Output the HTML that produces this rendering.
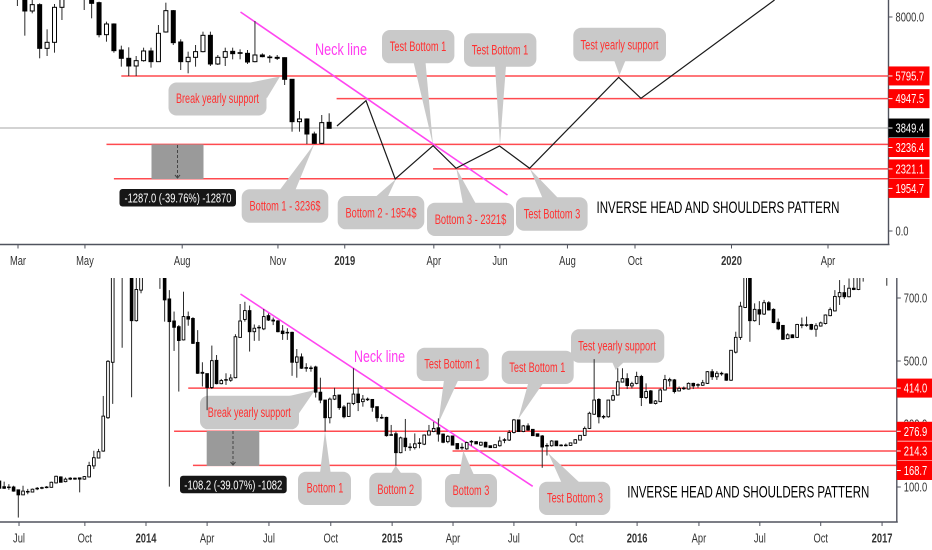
<!DOCTYPE html>
<html lang="en">
<head>
<meta charset="utf-8">
<title>Inverse head and shoulders pattern</title>
<style>
html,body{margin:0;padding:0;background:#fff;width:932px;height:550px;overflow:hidden}
svg{display:block;filter:blur(0.35px)}
text{font-family:"Liberation Sans",sans-serif}
.co{fill:#c9c9c9}
.ct{fill:#ff3030;font-size:13.5px;text-anchor:middle}
.neck{stroke:#ff46f0;stroke-width:1.6;fill:none}
.neckt{fill:#ff3cf0;font-size:16.5px;text-anchor:middle}
.title{fill:#000;font-size:17px;text-anchor:middle}
.ml{fill:#fff;font-size:13px;text-anchor:middle}
</style>
</head>
<body>
<svg id="chart" xmlns="http://www.w3.org/2000/svg" width="932" height="550" viewBox="0 0 932 550">
  <defs>
    <clipPath id="top-clip"><rect x="0" y="0" width="888" height="244"/></clipPath>
    <clipPath id="bot-clip"><rect x="0" y="278" width="897" height="244"/></clipPath>
  </defs>

  <!-- TOP PANEL -->
  <g>
    <g id="top-levels" clip-path="url(#top-clip)"></g>
    <g>
      <rect x="151.5" y="144.5" width="52" height="34.5" fill="#9a9a9a"/>
      <line x1="177.5" y1="145" x2="177.5" y2="177" stroke="#444" stroke-width="1" stroke-dasharray="3 2"/>
      <path d="M175 175 L177.5 178 L180 175" fill="none" stroke="#444" stroke-width="1"/>
      <rect x="119.5" y="189" width="116.5" height="17.5" rx="3" fill="#161616"/>
      <text class="ml" x="178" y="202.5" textLength="107" lengthAdjust="spacingAndGlyphs">-1287.0 (-39.76%) -12870</text>
    </g>
    <g>
      <rect class="co" x="168.5" y="82.5" width="98" height="33" rx="8"/>
      <polygon class="co" points="248,83 280,76.5 267,98"/>
      <text class="ct" x="217.5" y="103" textLength="83" lengthAdjust="spacingAndGlyphs">Break yearly support</text>
    </g>
    <g>
      <rect class="co" x="241.7" y="189.3" width="86.6" height="33.4" rx="8"/>
      <polygon class="co" points="279,191 314.3,144 295,191"/>
      <text class="ct" x="285" y="210.5" textLength="71" lengthAdjust="spacingAndGlyphs">Bottom 1 - 3236$</text>
    </g>
    <g>
      <rect class="co" x="382" y="30" width="72.4" height="33.3" rx="8"/>
      <polygon class="co" points="413.5,62 433,145 425.5,62"/>
      <text class="ct" x="418" y="51" textLength="56.6" lengthAdjust="spacingAndGlyphs">Test Bottom 1</text>
    </g>
    <g>
      <rect class="co" x="464" y="33.3" width="72.4" height="33.4" rx="8"/>
      <polygon class="co" points="495,66 500,145 506,66"/>
      <text class="ct" x="500" y="54.5" textLength="56.6" lengthAdjust="spacingAndGlyphs">Test Bottom 1</text>
    </g>
    <g>
      <rect class="co" x="573.3" y="27.7" width="92.7" height="33.6" rx="8"/>
      <polygon class="co" points="614,60 619.5,75 625.7,60"/>
      <text class="ct" x="619.5" y="49.5" textLength="78" lengthAdjust="spacingAndGlyphs">Test yearly support</text>
    </g>
    <g>
      <rect class="co" x="337.7" y="196" width="86.6" height="33.3" rx="8"/>
      <polygon class="co" points="375.4,197 396,179 387.7,197"/>
      <text class="ct" x="381" y="217.5" textLength="71" lengthAdjust="spacingAndGlyphs">Bottom 2 - 1954$</text>
    </g>
    <g>
      <rect class="co" x="427" y="202.7" width="87" height="33.3" rx="8"/>
      <polygon class="co" points="463,204 456.3,168.3 476,204"/>
      <text class="ct" x="470.5" y="224" textLength="71.6" lengthAdjust="spacingAndGlyphs">Bottom 3 - 2321$</text>
    </g>
    <g>
      <rect class="co" x="516" y="197.3" width="71.6" height="33.4" rx="8"/>
      <polygon class="co" points="530,169 542.5,198 558,198"/>
      <text class="ct" x="552" y="218.5" textLength="56.6" lengthAdjust="spacingAndGlyphs">Test Bottom 3</text>
    </g>
    <line class="neck" x1="240.5" y1="12" x2="507.5" y2="195"/>
    <text class="neckt" x="341" y="55" textLength="52" lengthAdjust="spacingAndGlyphs">Neck line</text>
    <text class="title" x="718" y="213" textLength="243" lengthAdjust="spacingAndGlyphs">INVERSE HEAD AND SHOULDERS PATTERN</text>
    <g id="top-candles" clip-path="url(#top-clip)"></g>
    <g id="top-projection" clip-path="url(#top-clip)"></g>
    <g id="top-axes"></g>
  </g>

  <!-- BOTTOM PANEL -->
  <g>
    <g id="bot-levels" clip-path="url(#bot-clip)"></g>
    <g>
      <rect x="206.7" y="431" width="52.6" height="35" fill="#9a9a9a"/>
      <line x1="233" y1="431" x2="233" y2="464" stroke="#444" stroke-width="1" stroke-dasharray="3 2"/>
      <path d="M230.5 462 L233 465 L235.5 462" fill="none" stroke="#444" stroke-width="1"/>
      <rect x="180" y="475.7" width="106.7" height="17.6" rx="3" fill="#161616"/>
      <text class="ml" x="233.3" y="489.3" textLength="98" lengthAdjust="spacingAndGlyphs">-108.2 (-39.07%) -1082</text>
    </g>
    <g>
      <rect class="co" x="200" y="395.7" width="99" height="33.6" rx="8"/>
      <polygon class="co" points="285,397 315,390 298.5,414"/>
      <text class="ct" x="249.3" y="417" textLength="83" lengthAdjust="spacingAndGlyphs">Break yearly support</text>
    </g>
    <g>
      <rect class="co" x="298" y="471.7" width="53" height="33.3" rx="8"/>
      <polygon class="co" points="320,473 325,431 330.7,473"/>
      <text class="ct" x="325" y="492.5" textLength="36.7" lengthAdjust="spacingAndGlyphs">Bottom 1</text>
    </g>
    <g>
      <rect class="co" x="369.3" y="472.7" width="52.4" height="33.3" rx="8"/>
      <polygon class="co" points="390.7,474 395.7,465.7 401.7,474"/>
      <text class="ct" x="395.7" y="493.8" textLength="36.7" lengthAdjust="spacingAndGlyphs">Bottom 2</text>
    </g>
    <g>
      <rect class="co" x="445" y="474" width="52" height="33.3" rx="8"/>
      <polygon class="co" points="459.3,475 463.3,450.7 474,475"/>
      <text class="ct" x="471" y="495" textLength="36.7" lengthAdjust="spacingAndGlyphs">Bottom 3</text>
    </g>
    <g>
      <rect class="co" x="416.7" y="347.7" width="72" height="33.3" rx="8"/>
      <polygon class="co" points="444,380 438.3,423.3 458.3,380"/>
      <text class="ct" x="452.3" y="368.5" textLength="56" lengthAdjust="spacingAndGlyphs">Test Bottom 1</text>
    </g>
    <g>
      <rect class="co" x="501.7" y="350.7" width="72" height="33.3" rx="8"/>
      <polygon class="co" points="528.3,383 518.3,419 543.3,383"/>
      <text class="ct" x="537.3" y="371.8" textLength="56" lengthAdjust="spacingAndGlyphs">Test Bottom 1</text>
    </g>
    <g>
      <rect class="co" x="539" y="481.7" width="71.3" height="33.3" rx="8"/>
      <polygon class="co" points="548.3,453.3 561.7,483 580,483"/>
      <text class="ct" x="575" y="502.5" textLength="56" lengthAdjust="spacingAndGlyphs">Test Bottom 3</text>
    </g>
    <g>
      <rect class="co" x="571" y="329.3" width="93.3" height="33.4" rx="8"/>
      <polygon class="co" points="611.7,361 615.7,370 625,361"/>
      <text class="ct" x="617" y="350.5" textLength="77.7" lengthAdjust="spacingAndGlyphs">Test yearly support</text>
    </g>
    <line class="neck" x1="240.5" y1="294" x2="532.7" y2="486.3"/>
    <text class="neckt" x="379.5" y="362" textLength="51" lengthAdjust="spacingAndGlyphs">Neck line</text>
    <text class="title" x="748.3" y="497.5" textLength="242" lengthAdjust="spacingAndGlyphs">INVERSE HEAD AND SHOULDERS PATTERN</text>
    <g id="bot-candles" clip-path="url(#bot-clip)"></g>
    <g id="bot-axes"></g>
  </g>
</svg>

<script>
/* ---------- top panel data (BTC weekly, price) ---------- */
const topOpen  = [9000,9200,8224,8461,6828,7053,8361,9200,9300,9000,8760,8535,7339,7738,6766,6455,6168,6367,6729,6330,7439,8236,7065,6330,6492,6704,7314,6243,6492,6716,6666,6641,6330,6579,6504,6492,6479,5670,4087,4187,3626,3277,4062];
const topHigh  = [10000,9400,9000,8510,7539,8485,9100,10000,9900,9300,9000,8573,7825,7763,6928,6866,6542,6853,6853,7700,8535,8261,7165,6704,6953,7451,7451,6579,6853,6853,6791,6766,7850,6641,6579,6579,6492,5670,4486,4212,3713,4336,4399];
const topLow   = [8411,7302,8137,6455,6542,6666,7887,8900,8900,8261,7950,7239,7077,6666,6143,5794,5794,6330,6106,6317,7414,6953,6018,5894,6143,6679,6168,6205,6168,6417,6417,6243,6305,6492,6292,6392,5458,3713,3713,3252,3252,3252,3838];
const topClose = [9500,8224,8461,6828,7053,8361,8884,9900,9600,9300,8510,7339,7738,6741,6455,6168,6367,6729,6330,7389,8236,7040,6330,6492,6704,7314,6243,6492,6704,6629,6641,6317,6579,6517,6479,6455,5670,4087,4187,3626,3277,4050,3838];
const topLevels = [5795.7,4947.5,3236.4,2321.1,1954.7];
const topLevelStartWeeks = [14,43,12,56,13];
const topLastPrice = 3849.4;
const topPathWeeks  = [43.05,46.96,50.9,56,59.1,64.95,69,81,84,102];
const topPathPrices = [3925,4871,1944,3189,2344,3177,2344,5745,4960,8635];
const topTickLabels = ["Mar","May","Aug","Nov","2019","Apr","Jun","Aug","Oct","2020","Apr"];
const topTickWeeks  = [0.08,9.1,22.2,35.1,44.1,56.1,65,74.1,83.2,96.2,109.2];
const topPriceTicks = [8000,0];

/* ---------- bottom panel data (BTC weekly, price) ---------- */
const botOpen  = [119,101,100,100,91,75,86,84,96,98,100,99,113,132,117,128,128,129,125,132,167,192,214,320,496,847,1016,932,879,628,725,826,985,1090,879,805,697,627,609,567,641,635,559,461,460,416,502,428,441,439,447,575,632,660,593,607,602,644,630,627,595,591,591,496,513,479,478,481,401,376,320,379,392,354,324,365,395,371,379,378,355,321,321,266,269,209,255,227,225,240,236,265,276,288,268,244,262,238,226,221,245,244,233,242,231,225,231,250,249,273,313,276,294,283,269,262,232,231,246,233,233,232,239,249,264,286,331,378,324,323,376,392,433,444,421,429,451,384,405,365,371,408,437,440,405,414,411,429,425,423,429,466,450,461,459,439,528,575,670,805,628,663,649,685,664,623,613,571,583,575,615,615,616,601,611,619,644,659,704,717,704,731,727,784,815,858,900,836,794];
const botHigh  = [128,117,109,104,91,104,94,95,100,101,103,117,136,134,130,131,130,129,135,180,215,221,389,503,847,1059,1027,1090,932,805,836,1006,1112,1101,900,815,725,657,614,720,657,639,598,496,460,549,519,443,461,458,585,681,688,676,616,614,665,651,638,630,614,604,593,538,524,493,485,485,447,376,384,415,392,360,366,477,415,392,384,379,355,331,323,297,276,260,316,239,270,255,267,297,307,318,270,265,263,239,239,244,249,246,244,244,232,236,260,255,281,316,314,297,302,284,270,265,239,249,247,236,238,241,252,265,292,339,506,382,329,376,408,477,477,461,434,466,456,429,408,376,413,456,447,443,419,419,432,431,429,440,468,474,468,466,461,535,593,688,826,815,683,690,694,690,667,635,614,588,585,618,638,641,618,620,625,648,670,725,757,741,762,768,794,826,868,911,911,889,847];
const botLow   = [91,94,91,85,3,75,77,83,90,93,96,98,111,114,115,122,123,83,123,130,157,191,212,316,364,836,542,911,385,625,715,805,932,858,729,625,101,532,403,565,612,554,459,419,344,411,426,426,424,434,445,575,625,530,564,564,598,627,614,591,567,567,453,447,475,466,466,384,366,276,302,376,345,318,323,360,341,355,373,339,307,316,260,263,168,207,214,215,219,223,233,263,274,244,239,239,233,220,218,218,231,236,230,226,224,224,228,239,246,270,275,274,278,262,260,161,200,228,230,229,229,231,238,248,262,284,329,302,316,320,373,390,432,411,413,426,357,379,364,362,369,406,419,397,403,408,409,411,415,421,427,440,440,453,437,437,524,567,668,561,625,614,646,660,620,598,567,569,573,573,604,609,598,577,609,616,642,657,678,697,702,725,725,752,794,836,815,815,739];
const botClose = [96,96,98,87,75,87,84,93,94,96,98,115,134,115,125,125,125,125,133,168,193,212,325,499,836,1037,794,1069,628,727,826,985,1090,879,805,694,625,607,565,641,633,556,461,464,416,501,428,438,439,446,577,627,660,593,604,605,641,630,627,593,587,589,496,513,477,477,476,401,376,320,379,390,352,323,366,395,368,379,377,353,320,319,263,264,209,256,228,225,237,238,265,278,286,268,242,261,233,221,224,241,243,237,242,227,225,234,246,248,273,313,276,294,281,263,261,227,230,246,231,231,231,240,250,264,286,334,376,323,322,376,390,434,444,422,428,451,384,403,366,373,408,441,441,403,413,412,429,421,423,431,466,450,461,459,439,534,575,674,805,628,664,649,685,662,622,602,569,583,574,616,613,613,601,612,621,646,663,705,717,704,731,727,773,815,858,900,836,879,836];
const botLevels = [414.0,276.9,214.3,168.7];
const botLevelStartWeeks = [40,37,96,41];
const botTickLabels = ["Jul","Oct","2014","Apr","Jul","Oct","2015","Apr","Jul","Oct","2016","Apr","Jul","Oct","2017"];
const botTickWeeks  = [4.15,18.1,31.05,44,57.1,70.2,83.2,96.1,109,122.2,135.1,148.2,161.1,174,187];
const botPriceTicks = [700,500,300,100];

/* ---------- axis functions ---------- */
function xTop(week){ return 17.4 + 7.423 * week; }
function yTop(price){ return 231 - price / 37.38; }
function xBot(week){ return -0.57 + 4.72 * week; }
function yBot(price){ return 518.5 - 0.315 * price; }

const NS = 'http://www.w3.org/2000/svg';
function make(tag, parent){
  const el = document.createElementNS(NS, tag);
  parent.appendChild(el);
  return el;
}
function setAll(el, props){
  for (const k in props) el.setAttribute(k, props[k]);
}

function drawCandles(parent, xFn, yFn, o, h, l, c, bodyW, strokeW){
  const n = Math.min(o.length, h.length, l.length, c.length);
  for (let i = 0; i < n; i++){
    const x = xFn(i);
    const down = c[i] <= o[i];
    const wick = make('line', parent);
    
    
    setAll(wick, {x1:x, x2:x, y1:yFn(h[i]), y2:yFn(l[i]), stroke:'#2a2a2a', 'stroke-width':1});
    const top = yFn(Math.max(o[i], c[i]));
    const bot = yFn(Math.min(o[i], c[i]));
    const body = make('rect', parent);
    
    
    setAll(body, {x:x - bodyW / 2, y:top, width:bodyW, height:Math.max(bot - top, 0.5),
      fill:down ? '#000' : '#fff', stroke:'#000', 'stroke-width':strokeW});
  }
}

function drawLevels(parent, levels, starts, xFn, yFn, rightX){
  levels.forEach(function(v, i){
    const line = make('line', parent);
    
    
    setAll(line, {x1:xFn(starts[i]), x2:rightX, y1:yFn(v), y2:yFn(v), stroke:'#ff4a4f', 'stroke-width':1.5});
  });
}

function axisText(parent, x, y, str, anchor, bold, fill){
  const t = make('text', parent);
  
  
  setAll(t, {transform:'translate(' + x + ',' + y + ') scale(0.72,1)', 'font-size':13,
    'text-anchor':anchor, fill:fill, 'font-weight':bold ? 'bold' : 'normal'});
  t.textContent = str;
  return t;
}

function drawAxes(parent, cfg){
  const color = '#50535e';
  const bottomLine = make('line', parent);
  
  
  setAll(bottomLine, {x1:0, x2:cfg.right + 1, y1:cfg.bottom, y2:cfg.bottom, stroke:color, 'stroke-width':1.4});
  const rightLine = make('line', parent);
  
  
  setAll(rightLine, {x1:cfg.right, x2:cfg.right, y1:cfg.top, y2:cfg.bottom, stroke:color, 'stroke-width':1.4});

  cfg.tickLabels.forEach(function(label, i){
    const x = cfg.xFn(cfg.tickWeeks[i]);
    const tick = make('line', parent);
    
    
    setAll(tick, {x1:x, x2:x, y1:cfg.bottom, y2:cfg.bottom + 4, stroke:color, 'stroke-width':1});
    axisText(parent, x, cfg.bottom + 20.5, label, 'middle', /^\d/.test(label), '#333');
  });

  cfg.priceTicks.forEach(function(v){
    const y = cfg.yFn(v);
    const tick = make('line', parent);
    
    
    setAll(tick, {x1:cfg.right, x2:cfg.right + 4, y1:y, y2:y, stroke:color, 'stroke-width':1});
    axisText(parent, cfg.right + 7, y + 4.5, v.toFixed(1), 'start', false, '#333');
  });

  const boxH = 19;
  let prevBottom = -1000;
  cfg.flags.slice().sort(function(a, b){ return b.v - a.v; }).forEach(function(f){
    let c = cfg.yFn(f.v);
    if (c - boxH / 2 < prevBottom) c = prevBottom + boxH / 2;
    prevBottom = c + boxH / 2 + 0.5;
    const box = make('rect', parent);
    
    
    setAll(box, {x:cfg.right, y:c - boxH / 2, width:cfg.flagW, height:boxH, fill:f.color});
    const dash = make('line', parent);
    
    
    setAll(dash, {x1:cfg.right, x2:cfg.right + 4, y1:c, y2:c, stroke:'#fff', 'stroke-width':1});
    axisText(parent, cfg.right + 7, c + 4.5, f.v.toFixed(1), 'start', false, '#fff');
  });
}

/* ---------- render top ---------- */
const topLevelsG = document.getElementById('top-levels');
const lastLine = make('line', topLevelsG);


setAll(lastLine, {x1:0, x2:888, y1:yTop(topLastPrice), y2:yTop(topLastPrice), stroke:'#b9b9b9', 'stroke-width':1.3});
drawLevels(topLevelsG, topLevels, topLevelStartWeeks, xTop, yTop, 888);
drawCandles(document.getElementById('top-candles'), xTop, yTop, topOpen, topHigh, topLow, topClose, 4, 1);

const pathEl = make('polyline', document.getElementById('top-projection'));


setAll(pathEl, {points:topPathWeeks.map(function(w, i){ return xTop(w) + ',' + yTop(topPathPrices[i]); }).join(' '),
  fill:'none', stroke:'#1a1a1a', 'stroke-width':1.2});

const topFlags = topLevels.map(function(v){ return {v:v, color:'#ff0000'}; });
topFlags.push({v:topLastPrice, color:'#000000'});
drawAxes(document.getElementById('top-axes'), {
  right:888.5, top:0, bottom:244.5, flagW:41, xFn:xTop, yFn:yTop,
  tickLabels:topTickLabels, tickWeeks:topTickWeeks, priceTicks:topPriceTicks, flags:topFlags
});

/* ---------- render bottom ---------- */
drawLevels(document.getElementById('bot-levels'), botLevels, botLevelStartWeeks, xBot, yBot, 897);
drawCandles(document.getElementById('bot-candles'), xBot, yBot, botOpen, botHigh, botLow, botClose, 2.7, 0.9);
drawAxes(document.getElementById('bot-axes'), {
  right:896.8, top:278, bottom:522, flagW:36, xFn:xBot, yFn:yBot,
  tickLabels:botTickLabels, tickWeeks:botTickWeeks, priceTicks:botPriceTicks,
  flags:botLevels.map(function(v){ return {v:v, color:'#ff0000'}; })
});
</script>
</body>
</html>
